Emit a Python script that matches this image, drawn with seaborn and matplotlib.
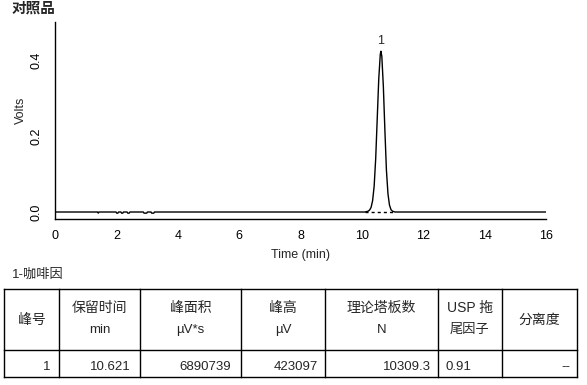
import numpy as np
import pandas as pd
import matplotlib
matplotlib.use("Agg")
import matplotlib.pyplot as plt
import seaborn as sns

# ---------------- data ----------------
time_min = [0.00, 1.39, 1.41, 1.43, 1.99, 2.01, 2.05, 2.07, 2.15, 2.17, 2.21, 2.23,
            2.35, 2.37, 2.42, 2.44, 2.88, 2.90, 2.99, 3.01, 3.13, 3.15, 3.22, 3.24,
            10.10, 10.20, 10.25, 10.30, 10.35, 10.40, 10.45, 10.50, 10.55, 10.60,
            10.62, 10.65, 10.70, 10.75, 10.80, 10.85, 10.90, 10.95, 11.00, 11.08, 16.00]
volts = [0.000, 0.000, -0.003, 0.000, 0.000, -0.003, -0.003, 0.000, 0.000, -0.003, -0.003, 0.000,
         0.000, -0.003, -0.003, 0.000, 0.000, -0.003, -0.003, 0.000, 0.000, -0.003, -0.003, 0.000,
         0.000, 0.002, 0.005, 0.012, 0.030, 0.068, 0.140, 0.245, 0.350, 0.415,
         0.423, 0.410, 0.330, 0.215, 0.110, 0.048, 0.018, 0.006, 0.002, 0.000, 0.000]
peak_start, peak_end = 10.10, 11.00
peak_rt, peak_height = 10.621, 0.423
peak_label = "1"

x_ticks = list(range(0, 17))
x_labels = [str(t) if t % 2 == 0 else "" for t in x_ticks]
y_ticks = [0.0, 0.1, 0.2, 0.3, 0.4, 0.5]
y_labels = ["0.0", "", "0.2", "", "0.4", ""]

title = "对照品"
compound = "1-咖啡因"
headers = ["峰号", "保留时间\nmin", "峰面积\nµV*s", "峰高\nµV", "理论塔板数\nN", "USP 拖\n尾因子", "分离度"]
row = ["1", "10.621", "6890739", "423097", "10309.3", "0.91", "--"]

# ---------------- style ----------------
sns.set_style("white")
FAM = ["Liberation Sans", "Noto Sans CJK SC", "DejaVu Sans"]
plt.rcParams["font.family"] = FAM
plt.rcParams["axes.unicode_minus"] = False

W, H = 587, 385
fig = plt.figure(figsize=(W / 100, H / 100), dpi=100)

def px(x0, y0, x1, y1):
    return [x0 / W, 1 - y1 / H, (x1 - x0) / W, (y1 - y0) / H]

ax = fig.add_axes(px(55, 22, 546, 219))
df = pd.DataFrame({"Time (min)": time_min, "Volts": volts})
sns.lineplot(data=df, x="Time (min)", y="Volts", ax=ax, color="black", lw=1.0,
             estimator=None, sort=False)
ax.plot([peak_start, peak_end], [0, 0], color="black", lw=1.0, ls=(0, (2.2, 2.2)))
ax.text(peak_rt, peak_height + 0.012, peak_label, ha="center", va="bottom", fontsize=9)

ax.set_xlim(0, 16)
ax.set_ylim(-0.0184, 0.5)
ax.set_xticks(x_ticks)
ax.set_xticklabels(x_labels, fontsize=9)
ax.set_yticks(y_ticks)
ax.set_yticklabels(y_labels, fontsize=9, rotation=90, va="center")
for s in ["top", "right"]:
    ax.spines[s].set_visible(False)
for s in ["left", "bottom"]:
    ax.spines[s].set_linewidth(1.0)
    ax.spines[s].set_color("black")
ax.tick_params(axis="both", direction="out", length=3.5, width=1.0, color="black", labelcolor="black")
ax.tick_params(axis="x", pad=4.5)
ax.tick_params(axis="y", pad=5.5)
ax.set_xlabel("Time (min)", fontsize=9, labelpad=5)
ax.set_ylabel("Volts", fontsize=9)
ax.yaxis.set_label_coords(-0.058, 0.55)
ax.grid(False)

fig.text(12 / W, 1 - 9 / H, title, ha="left", va="center", fontsize=10.5, fontweight="bold")
fig.text(12 / W, 1 - 275 / H, compound, ha="left", va="center", fontsize=9.5)

# ---------------- table ----------------
tax = fig.add_axes([0, 0, 1, 1])
tax.set_xlim(0, W)
tax.set_ylim(H, 0)
tax.axis("off")
cols = [4, 59, 140, 241, 325, 438, 502, 577]
y_top, y_mid, y_bot = 289, 350, 377
lw = 1.0
for y in (y_top, y_mid, y_bot):
    tax.plot([cols[0], cols[-1]], [y, y], color="black", lw=lw, solid_capstyle="projecting")
for x in cols:
    tax.plot([x, x], [y_top, y_bot], color="black", lw=lw, solid_capstyle="projecting")

for i, h in enumerate(headers):
    cx = (cols[i] + cols[i + 1]) / 2
    parts = h.split("\n")
    if len(parts) == 1:
        tax.text(cx, 320, parts[0], ha="center", va="center", fontsize=10)
    else:
        tax.text(cx, 308, parts[0], ha="center", va="center", fontsize=10)
        tax.text(cx, 330, parts[1], ha="center", va="center", fontsize=9.5)

right_edges = [50, 131, 231, 318, 431, None, 570]
for i, v in enumerate(row):
    if right_edges[i] is None:
        tax.text(cols[i] + 8, 367, v, ha="left", va="center", fontsize=9.5)
    else:
        tax.text(right_edges[i], 367, v, ha="right", va="center", fontsize=9.5)

fig.savefig("out.png", dpi=100)
